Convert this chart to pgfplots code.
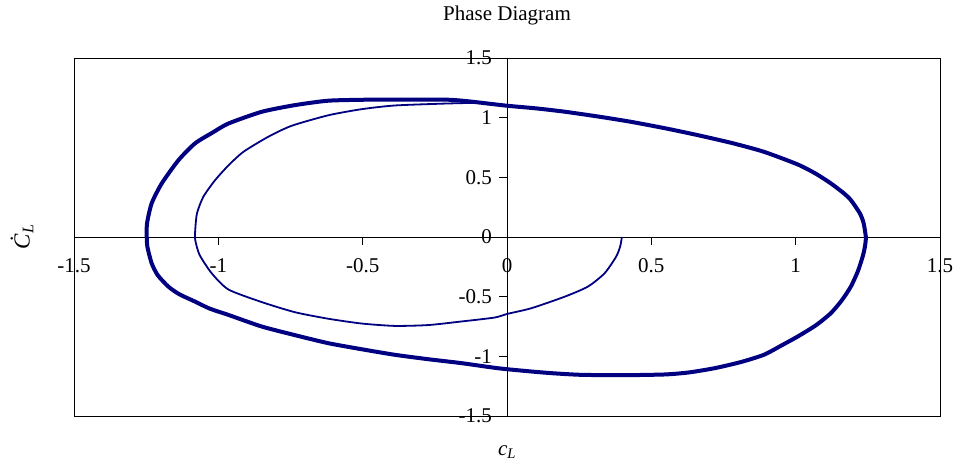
\documentclass[border=0pt]{standalone}
\usepackage{pgfplots}
\pgfplotsset{compat=1.18}
\usepackage{fontspec}
\setmainfont{Liberation Serif}
\definecolor{navy}{RGB}{0,0,128}

% trajectory c_L, dc_L/dt: transient spiral from (0.4,0) onto the limit cycle
\pgfplotstableread{
x y
0.398 0.000
0.392 -0.080
0.378 -0.165
0.338 -0.304
0.280 -0.416
0.200 -0.500
0.084 -0.597
0.000 -0.645
-0.043 -0.675
-0.158 -0.708
-0.273 -0.738
-0.389 -0.745
-0.504 -0.725
-0.619 -0.685
-0.735 -0.630
-0.850 -0.545
-0.965 -0.440
-1.023 -0.304
-1.065 -0.150
-1.080 -0.025
-1.080 0.060
-1.074 0.198
-1.052 0.337
-1.011 0.477
-0.965 0.600
-0.913 0.714
-0.827 0.840
-0.746 0.932
-0.619 1.020
-0.504 1.071
-0.389 1.102
-0.216 1.118
-0.100 1.125
}\transient

\pgfplotstableread{
x y
-0.100 1.128
0.000 1.100
0.100 1.078
0.200 1.050
0.320 1.008
0.430 0.965
0.550 0.910
0.660 0.854
0.780 0.787
0.890 0.714
1.007 0.608
1.070 0.530
1.122 0.449
1.165 0.370
1.191 0.310
1.222 0.200
1.235 0.120
1.243 0.000
1.240 -0.080
1.232 -0.165
1.215 -0.290
1.191 -0.416
1.160 -0.530
1.122 -0.638
1.070 -0.740
1.007 -0.834
0.950 -0.910
0.890 -0.987
0.810 -1.048
0.720 -1.099
0.630 -1.135
0.546 -1.152
0.400 -1.158
0.257 -1.155
0.160 -1.142
0.084 -1.127
-0.030 -1.100
-0.158 -1.057
-0.270 -1.025
-0.389 -0.987
-0.500 -0.942
-0.619 -0.890
-0.735 -0.822
-0.850 -0.750
-0.965 -0.653
-1.030 -0.600
-1.081 -0.541
-1.135 -0.480
-1.173 -0.416
-1.210 -0.320
-1.231 -0.220
-1.246 -0.080
-1.248 0.000
-1.247 0.115
-1.231 0.282
-1.196 0.449
-1.138 0.644
-1.081 0.784
-1.020 0.875
-0.965 0.951
-0.850 1.049
-0.735 1.105
-0.620 1.142
-0.500 1.150
-0.400 1.152
-0.200 1.150
-0.100 1.128
}\limitcycle

\begin{document}
\fontsize{21bp}{24bp}\selectfont
\begin{tikzpicture}
\useasboundingbox (-74bp,-51bp) rectangle (887bp,416bp);
\begin{axis}[
  at={(0,0)}, anchor=south west,
  scale only axis, width=866bp, height=358bp,
  xmin=-1.5, xmax=1.5, ymin=-1.5, ymax=1.5,
  axis lines=middle,
  axis line style={-, black, line width=0.8bp},
  xtick={-1.5,-1,-0.5,0,0.5,1,1.5},
  ytick={-1.5,-1,-0.5,0,0.5,1,1.5},
  xticklabels={-1.5,-1,-0.5,0,0.5,1,1.5},
  yticklabels={-1.5,-1,-0.5,0,0.5,1,1.5},
  hide obscured x ticks=false, hide obscured y ticks=false,
  tick align=outside,
  major tick length=8bp,
  tick style={black, line width=0.8bp},
  xticklabel style={anchor=north, yshift=-6bp},
  yticklabel style={anchor=east},
  title={Phase Diagram},
  title style={anchor=center, yshift=37bp},
  xlabel={\textit{c}\textsubscript{\textit{L}}},
  xlabel style={at={(axis description cs:0.5,-0.1006)}, anchor=center},
  ylabel={\fontsize{23bp}{26bp}\selectfont\textit{Ċ}\textsubscript{\textit{L}}},
  ylabel style={at={(axis description cs:-0.060,0.5)}, rotate=90, anchor=center},
  clip=false,
]
\draw[black, line width=0.8bp] (rel axis cs:0,0) rectangle (rel axis cs:1,1);
\addplot[navy, line width=1.8bp, smooth, tension=0.4] table {\transient};
\addplot[navy, line width=4bp, smooth, tension=0.4] table {\limitcycle};
\end{axis}
\end{tikzpicture}
\end{document}
